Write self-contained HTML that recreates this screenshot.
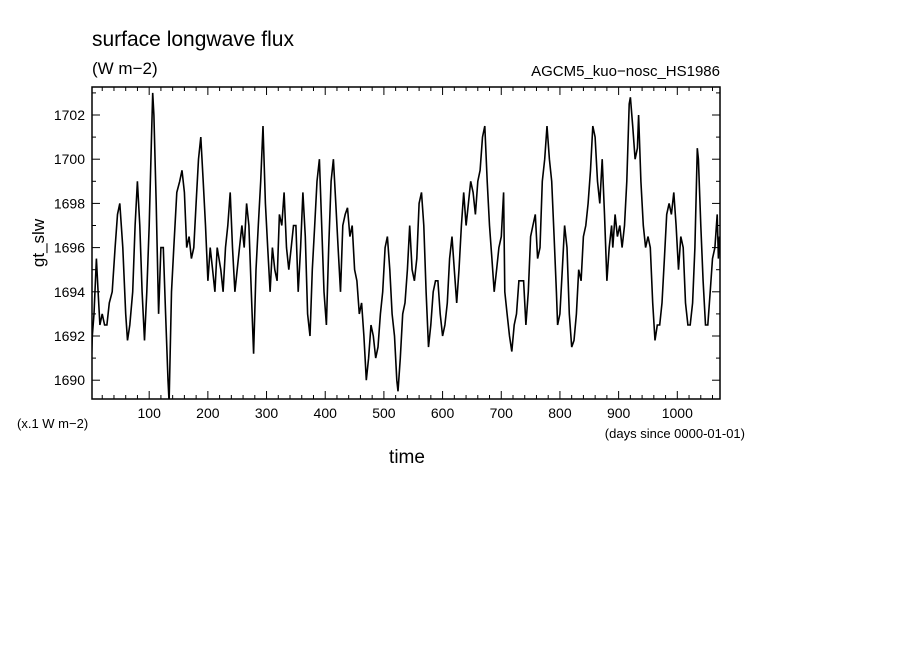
<!DOCTYPE html>
<html><head><meta charset="utf-8"><style>
body{margin:0;background:#fff;}
svg{display:block;font-family:"Liberation Sans",sans-serif;}
</style></head><body>
<svg id="chart" width="904" height="654" viewBox="0 0 904 654">
<text x="92" y="46" font-size="21">surface longwave flux</text>
<text x="92" y="74" font-size="17">(W m−2)</text>
<text x="720" y="76" font-size="15" text-anchor="end">AGCM5_kuo−nosc_HS1986</text>
<text x="0" y="0" font-size="17" text-anchor="middle" transform="translate(44,243) rotate(-90)">gt_slw</text>
<text x="17" y="428" font-size="13">(x.1 W m−2)</text>
<text x="745" y="438" font-size="13" text-anchor="end">(days since 0000-01-01)</text>
<text x="407" y="463" font-size="19" text-anchor="middle">time</text>
<g id="axes"></g>
<g id="series"></g>
<rect x="92" y="87" width="628" height="312" fill="none" stroke="#000" stroke-width="1.5"/>
</svg>
<script>
const days=[0,3,6,10,13,16,20,24,28,32,37,42,46,50,55,60,63,67,72,76,80,84,88,92,96,100,104,106,108,112,116,120,124,128,132,134,138,142,147,152,156,160,164,168,172,176,180,184,188,192,196,200,204,208,212,216,222,226,230,234,238,242,246,250,254,258,262,266,270,274,278,282,286,290,294,298,302,306,310,314,318,322,326,330,334,338,342,346,350,354,358,362,366,370,374,378,382,386,390,394,398,402,406,410,414,418,422,426,430,434,438,442,446,450,454,458,462,466,470,474,478,482,486,490,494,498,502,506,510,514,518,522,524,528,532,536,540,544,548,552,556,560,564,568,572,576,580,584,588,592,596,600,604,608,612,616,620,624,628,632,636,640,644,648,652,656,660,664,668,672,676,680,684,688,692,696,700,704,706,710,714,718,722,726,730,734,738,742,746,750,754,758,762,766,770,774,778,782,786,790,794,796,800,804,808,812,816,820,824,828,832,836,840,844,848,852,856,860,864,868,872,876,880,884,888,890,894,898,902,906,910,914,918,920,924,928,932,934,938,942,946,950,954,958,962,966,970,974,978,982,986,990,994,998,1002,1006,1010,1014,1018,1022,1026,1030,1034,1036,1040,1044,1048,1052,1056,1060,1064,1068,1070,1072,1075];
const values=[1689.5,1692,1693,1695.5,1694,1692.5,1693,1692.5,1692.5,1693.5,1694,1696,1697.5,1698,1696,1693,1691.8,1692.5,1694,1697,1699,1697,1694,1691.8,1694,1697,1701,1703,1702,1698,1693,1696,1696,1693,1690,1689,1694,1696,1698.5,1699,1699.5,1698.5,1696,1696.5,1695.5,1696,1698,1700,1701,1699,1697,1694.5,1696,1695,1694,1696,1695,1694,1696,1697,1698.5,1696,1694,1695,1696,1697,1696,1698,1697,1694,1691.2,1695,1697,1699,1701.5,1698,1696,1694,1696,1695,1694.5,1697.5,1697,1698.5,1696,1695,1696,1697,1697,1694,1696,1698.5,1696.5,1693,1692,1695,1697,1699,1700,1697,1694,1692.5,1696,1699,1700,1698,1696,1694,1697,1697.5,1697.8,1696.5,1697,1695,1694.5,1693,1693.5,1692,1690,1691,1692.5,1692,1691,1691.5,1693,1694,1696,1696.5,1695,1693,1692,1690,1689.5,1691,1693,1693.5,1695,1697,1695,1694.5,1695.5,1698,1698.5,1697,1694,1691.5,1692.5,1694,1694.5,1694.5,1693,1692,1692.5,1693.5,1695.5,1696.5,1695,1693.5,1695,1697,1698.5,1697,1698,1699,1698.5,1697.5,1699,1699.5,1701,1701.5,1699,1697,1695.5,1694,1695,1696,1696.5,1698.5,1694,1693,1692,1691.3,1692.5,1693,1694.5,1694.5,1694.5,1692.5,1694,1696.5,1697,1697.5,1695.5,1696,1699,1700,1701.5,1700,1699,1696.5,1694,1692.5,1693,1695,1697,1696,1693,1691.5,1691.8,1693,1695,1694.5,1696.5,1697,1698,1699.5,1701.5,1701,1699,1698,1700,1697.5,1694.5,1696,1697,1696,1697.5,1696.5,1697,1696,1697,1699,1702.5,1702.8,1701.5,1700,1700.5,1702,1699,1697,1696,1696.5,1696,1693.5,1691.8,1692.5,1692.5,1693.5,1695.5,1697.5,1698,1697.5,1698.5,1697,1695,1696.5,1696,1693.5,1692.5,1692.5,1693.5,1696,1700.5,1700,1697,1694.5,1692.5,1692.5,1694,1695.5,1696,1697.5,1695.5,1696.5,1695];
const yTickLabels=[1690,1692,1694,1696,1698,1700,1702];
const xTickLabels=[100,200,300,400,500,600,700,800,900,1000];

const L=92,R=720,T=87,B=399;
function xs(d){return 90.5+d*0.5868;}
function ys(v){return 115+(1702-v)*22.1;}
const NS="http://www.w3.org/2000/svg";
const axes=document.getElementById('axes');
function mk(tag,attrs,parent){const e=document.createElementNS(NS,tag);for(const k in attrs)e.setAttribute(k,attrs[k]);parent.appendChild(e);return e;}
// y ticks every 1 unit
for(let v=1689;v<=1703;v++){
  const y=ys(v); if(y<T||y>B) continue;
  const len=(v%2===0)?8:4;
  const t1=mk('line',{x1:L,x2:L+len,y1:y,y2:y,stroke:'#000','stroke-width':1},axes);
  
  
  const t2=mk('line',{x1:R,x2:R-len,y1:y,y2:y,stroke:'#000','stroke-width':1},axes);
  
  
}
yTickLabels.forEach(v=>{
  const t=mk('text',{x:85,y:ys(v)+5,'font-size':14,'text-anchor':'end'},axes);
  t.textContent=v;
  
  
});
for(let d=20;d<=1080;d+=20){
  const x=xs(d); if(x<L||x>R) continue;
  const len=(d%100===0)?8:4;
  const t1=mk('line',{x1:x,x2:x,y1:B,y2:B-len,stroke:'#000','stroke-width':1},axes);
  
  
  const t2=mk('line',{x1:x,x2:x,y1:T,y2:T+len,stroke:'#000','stroke-width':1},axes);
  
  
}
xTickLabels.forEach(d=>{
  const t=mk('text',{x:xs(d),y:418,'font-size':14,'text-anchor':'middle'},axes);
  t.textContent=d;
  
  
});
const ser=document.getElementById('series');
mk('clipPath',{id:'clip'},ser).appendChild(document.createElementNS(NS,'rect'));
const cr=ser.querySelector('clipPath rect');cr.setAttribute('x',L);cr.setAttribute('y',T);cr.setAttribute('width',R-L);cr.setAttribute('height',B-T);
let dstr='';
days.forEach((d,i)=>{dstr+=(i?'L':'M')+xs(d).toFixed(1)+','+ys(values[i]).toFixed(1);});
const p=mk('path',{d:dstr,fill:'none',stroke:'#000','stroke-width':1.6,'clip-path':'url(#clip)'},ser);


</script>
</body></html>
